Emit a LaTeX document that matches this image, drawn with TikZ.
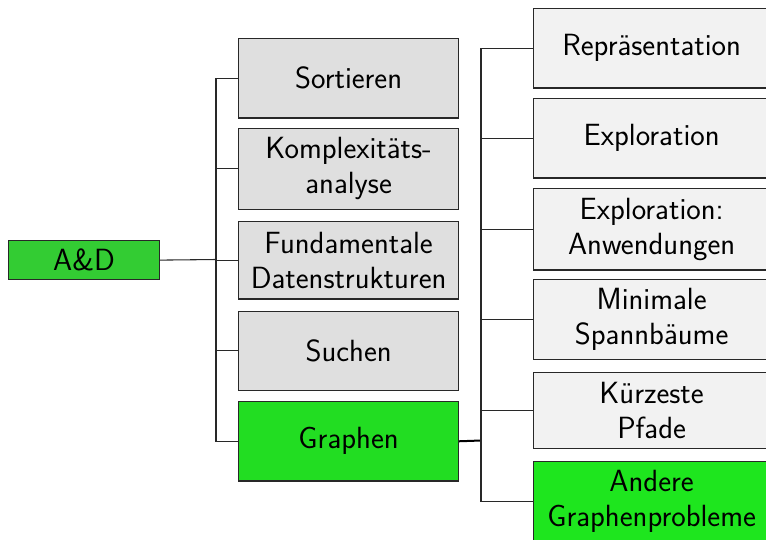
\documentclass[tikz,border=0pt]{standalone}
\usepackage{tikz}
\definecolor{adgreen}{RGB}{51,204,51}
\definecolor{grgreen}{RGB}{34,221,34}
\definecolor{angreen}{RGB}{30,230,30}
\definecolor{leftgray}{RGB}{223,223,223}
\definecolor{rightgray}{RGB}{242,242,242}
\definecolor{edgecol}{RGB}{40,40,40}
\begin{document}
\begin{tikzpicture}[x=0.75pt,y=-0.75pt,
  box/.style={draw=edgecol,line width=0.9pt,inner sep=0pt,align=center,
    font=\sffamily\fontsize{23}{26}\selectfont,anchor=north west},
  leftbox/.style={box,fill=leftgray,minimum width=165pt,minimum height=59.5pt},
  rightbox/.style={box,fill=rightgray,minimum width=177pt,minimum height=59.5pt},
  conn/.style={draw=edgecol,line width=0.8pt},
  hconn/.style={draw=black,line width=1.5pt}]
\useasboundingbox (0,0) rectangle (766,539);
\node[box,fill=adgreen,minimum width=113.25pt,minimum height=29.25pt] (ad) at (8,240) {A\&D};
\node[leftbox] (sort) at (238,38) {Sortieren};
\node[leftbox,minimum height=61pt] (kompl) at (238,127.5) {Komplexitäts-\\analyse};
\node[leftbox,minimum height=58pt] (fund) at (238,221) {Fundamentale\\Datenstrukturen};
\node[leftbox] (such) at (238,310.5) {Suchen};
\node[leftbox,fill=grgreen] (graph) at (238,401) {Graphen};
\node[rightbox] (rep) at (533,8) {Repräsentation};
\node[rightbox] (expl) at (533,98) {Exploration};
\node[rightbox,minimum height=61pt] (expa) at (533,188) {Exploration:\\Anwendungen};
\node[rightbox,minimum height=60pt] (mst) at (533,279) {Minimale\\Spannbäume};
\node[rightbox,minimum height=57pt] (sp) at (533,372) {Kürzeste\\Pfade};
\node[rightbox,fill=angreen,minimum height=60pt] (other) at (533,461) {Andere\\Graphenprobleme};
\coordinate (busL) at (216,259.5);
\coordinate (busR) at (481,440.5);
\draw[conn] (ad.east) -- (busL);
\foreach \n in {sort,kompl,fund,such,graph}{\draw[conn] (busL) |- (\n.west);}
\draw[hconn] (graph.east) -- (busR);
\foreach \n in {rep,expl,expa,mst,sp,other}{\draw[conn] (busR) |- (\n.west);}
\end{tikzpicture}
\end{document}
